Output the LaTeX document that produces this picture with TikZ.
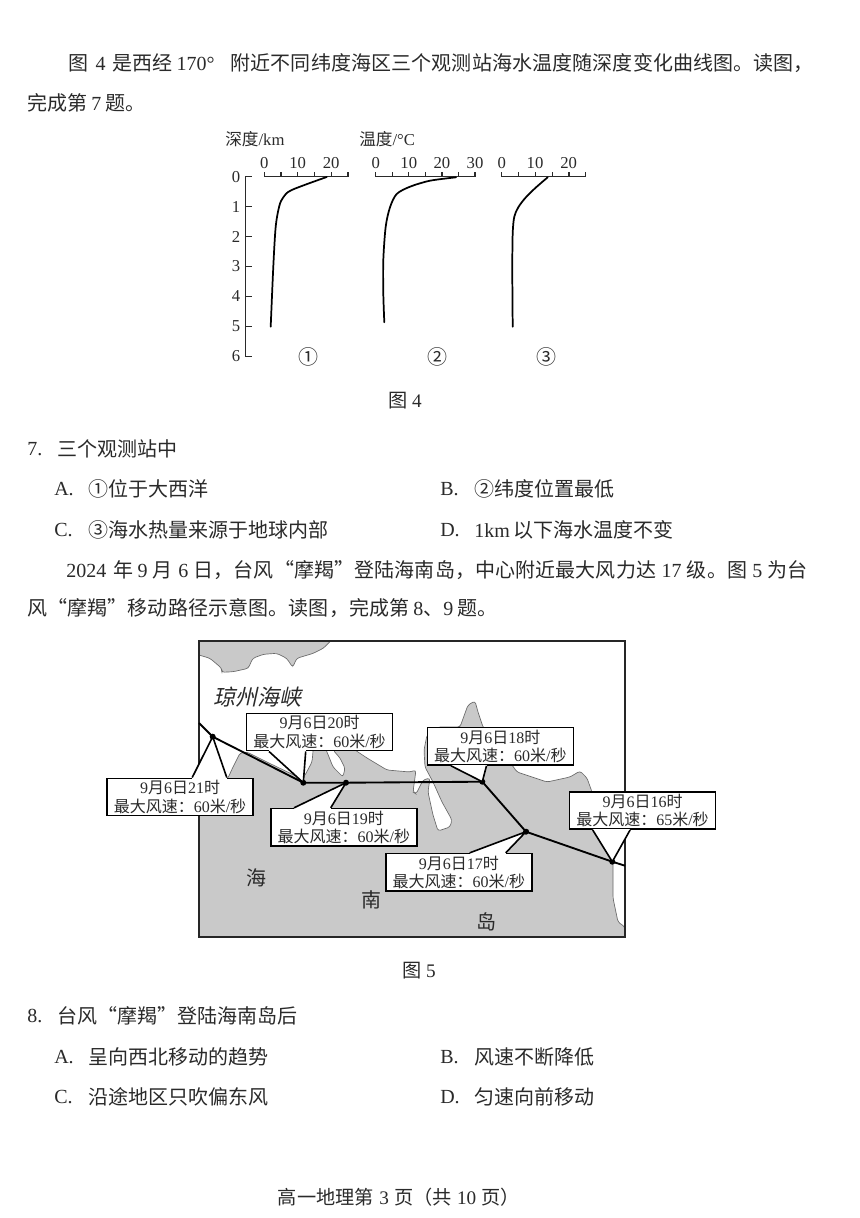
\documentclass[tikz,border=0pt]{standalone}
\usepackage{fontspec}
\usetikzlibrary{calc}
\setmainfont{Noto Sans CJK SC}
\newfontfamily\latnf{Liberation Serif}
\newfontfamily\cjkit[FakeSlant=0.22]{Noto Sans CJK SC}
\newfontfamily\widecjk[LetterSpace=0.6]{Noto Sans CJK SC}
\newcommand{\latn}[1]{{\latnf #1}}
\newcommand{\gap}[1]{\hspace{#1pt}}
\definecolor{ink}{HTML}{2A2A2A}
\definecolor{land}{HTML}{C9C9C9}
\tikzset{
  bodytxt/.style={anchor=west,inner sep=0pt,text=ink,font=\fontsize{15}{17}\selectfont},
  bodymid/.style={anchor=center,inner sep=0pt,text=ink,font=\fontsize{14.4}{16}\selectfont},
  axlab/.style={anchor=center,inner sep=0pt,text=ink,font=\fontsize{12.5}{14}\latnf},
  axtitle/.style={anchor=west,inner sep=0pt,text=ink,font=\fontsize{12.5}{14}\selectfont},
  axline/.style={draw=ink,line width=0.9pt},
  curveline/.style={draw=black,line width=1.3pt,line join=round,line cap=round},
  callout/.style={draw=black,fill=white,line width=1.2pt,minimum width=109.5pt,minimum height=28pt,inner sep=0pt,
     align=center,text=ink,font=\fontsize{12}{13.8}\selectfont},
  placetxt/.style={anchor=center,inner sep=0pt,text=ink,font=\fontsize{15}{17}\selectfont},
  trackline/.style={draw=black,line width=1.4pt,line join=round},
  tipdot/.style={circle,fill=black,inner sep=0pt,minimum size=4.5pt},
  ptr/.style={draw=black,line width=1.2pt,line join=miter},
}
\newcommand{\lab}[5]{%
  \node[callout] (#1) at (#2) {\latn{9}月\latn{6}日\latn{#3}时\\最大风速：\latn{#4}米\latn{/}秒};}
\newcommand{\pointer}[4]{%
  \fill[white] ($(#1)+(#2,0)$) -- (#4) -- ($(#1)+(#3,0)$) -- cycle;
  \draw[white,line width=1.8pt] ($(#1)+(#2,0)$) -- ($(#1)+(#3,0)$);
  \draw[ptr] ($(#1)+(#2,0)$) -- (#4) -- ($(#1)+(#3,0)$);}
\begin{document}
\begin{tikzpicture}[x=0.75pt,y=-0.75pt]
\useasboundingbox (0,0) rectangle (860,1218);
\fill[white] (0,0) rectangle (860,1218);

% body text
\node[bodytxt] (l1) at (68,63) {\widecjk 图\gap{5.6}\latn{4}\gap{5}是西经\gap{3}\latn{170°}\gap{12}附近不同纬度海区三个观测站海水温度随深度变化曲线图。读图，};
\node[bodytxt] (l2) at (27,103) {完成第\gap{3}\latn{7}\gap{3}题。};
\node[bodymid] (fig4) at (405,401) {图\gap{3.5}\latn{4}};
\node[bodytxt] (q7) at (27,449) {\latn{7.}};
\node[bodytxt] (q7t) at (57,449) {三个观测站中};
\node[bodytxt] (a7) at (54,489) {\latn{A.}};
\node[bodytxt] (a7t) at (88,489) {①位于大西洋};
\node[bodytxt] (b7) at (440,489) {\latn{B.}};
\node[bodytxt] (b7t) at (474,489) {②纬度位置最低};
\node[bodytxt] (c7) at (54,530) {\latn{C.}};
\node[bodytxt] (c7t) at (88,530) {③海水热量来源于地球内部};
\node[bodytxt] (d7) at (440,530) {\latn{D.}};
\node[bodytxt] (d7t) at (474,530) {\latn{1km}\gap{3}以下海水温度不变};
\node[bodytxt] (l3) at (66,570) {\widecjk\latn{2024}\gap{5.5}年\gap{3}\latn{9}\gap{4}月\gap{4}\latn{6}\gap{4}日，台风“摩羯”登陆海南岛，中心附近最大风力达\gap{4}\latn{17}\gap{4}级。图\gap{4}\latn{5}\gap{4}为台};
\node[bodytxt] (l4) at (27,608) {\widecjk 风“摩羯”移动路径示意图。读图，完成第\gap{3}\latn{8}、\latn{9}\gap{3}题。};
\node[bodymid] (fig5) at (419,971) {图\gap{3.5}\latn{5}};
\node[bodytxt] (q8) at (27,1016) {\latn{8.}};
\node[bodytxt] (q8t) at (57,1016) {台风“摩羯”登陆海南岛后};
\node[bodytxt] (a8) at (54,1057) {\latn{A.}};
\node[bodytxt] (a8t) at (88,1057) {呈向西北移动的趋势};
\node[bodytxt] (b8) at (440,1057) {\latn{B.}};
\node[bodytxt] (b8t) at (474,1057) {风速不断降低};
\node[bodytxt] (c8) at (54,1097) {\latn{C.}};
\node[bodytxt] (c8t) at (88,1097) {沿途地区只吹偏东风};
\node[bodytxt] (d8) at (440,1097) {\latn{D.}};
\node[bodytxt] (d8t) at (474,1097) {匀速向前移动};
\node[bodymid] (foot) at (399,1197) {高一地理第\gap{4}\latn{3}\gap{4}页（共\gap{4}\latn{10}\gap{4}页）};

% figure 4
\node[axtitle] (t1) at (225,139) {深度\latn{/km}};
\node[axtitle] (t2) at (359,139) {温度\latn{/°C}};
\draw[axline] (251.7,176.7) -- (245.7,176.7) -- (245.7,356.3) -- (251.7,356.3);
\foreach \d [count=\i from 0] in {176.7,206.5,236.5,266.4,296.4,326.3,356.3}{
  \draw[axline] (245.7,\d) -- (251.7,\d);
  \node[axlab] (dep\i) at (236,\d) {\i};
}
% axis 1
\draw[axline] (264.3,176.7) -- (348,176.7);
\foreach \x in {264.3,281,297.7,314.4,331.1,348} \draw[axline] (\x,176.7) -- (\x,171.7);
\node[axlab] (a10) at (264.3,162.7) {0};
\node[axlab] (a11) at (297.7,162.7) {10};
\node[axlab] (a12) at (331.1,162.7) {20};
% axis 2
\draw[axline] (375.7,176.7) -- (475,176.7);
\foreach \x in {375.7,392.3,408.8,425.4,441.9,458.5,475} \draw[axline] (\x,176.7) -- (\x,171.7);
\node[axlab] (a20) at (375.7,162.7) {0};
\node[axlab] (a21) at (408.8,162.7) {10};
\node[axlab] (a22) at (441.9,162.7) {20};
\node[axlab] (a23) at (475,162.7) {30};
% axis 3
\draw[axline] (501.7,176.7) -- (585.7,176.7);
\foreach \x in {501.7,518.5,535.3,552.1,568.9,585.7} \draw[axline] (\x,176.7) -- (\x,171.7);
\node[axlab] (a30) at (501.7,162.7) {0};
\node[axlab] (a31) at (535,162.7) {10};
\node[axlab] (a32) at (568.7,162.7) {20};
% curves
\draw[curveline] plot[smooth,tension=0.5] coordinates {(326.7,177) (291.7,190) (283.3,197.3) (279.3,206) (275.7,226.7) (273.3,266.7) (270.7,326.7)};
\draw[curveline] plot[smooth,tension=0.5] coordinates {(456,177.3) (430,180.7) (410,186.7) (396.7,194) (390,207.3) (385.7,226.7) (383.3,260) (383.3,293.3) (384.3,322.3)};
\draw[curveline] plot[smooth,tension=0.5] coordinates {(547.7,177.3) (535,188.3) (525,198.3) (518.3,207.3) (514.3,216.7) (512.7,233.3) (512.3,270) (512.7,326.7)};
\node[bodymid,font=\fontsize{15}{17}\selectfont] (s1) at (308,357) {①};
\node[bodymid,font=\fontsize{15}{17}\selectfont] (s2) at (437,357) {②};
\node[bodymid,font=\fontsize{15}{17}\selectfont] (s3) at (546.7,357) {③};

% figure 5: land
\fill[land] (199,641) -- (199,655) -- (210,658.3) -- (221.7,668.3) -- (221.7,672.3) -- (233.3,671.7) -- (248.3,668.3) -- (252.7,658.3) -- (263.3,654.3) -- (276.7,653.3) -- (286.7,658.3) -- (292.7,667.3) -- (296.7,658.3) -- (313.3,653.3) -- (323.3,648.3) -- (330.7,641) -- cycle;
\draw[draw=ink!70,line width=0.5pt,rounded corners=2pt] (199,655) -- (210,658.3) -- (221.7,668.3) -- (221.7,672.3) -- (233.3,671.7) -- (248.3,668.3) -- (252.7,658.3) -- (263.3,654.3) -- (276.7,653.3) -- (286.7,658.3) -- (292.7,667.3) -- (296.7,658.3) -- (313.3,653.3) -- (323.3,648.3) -- (330.7,641);
\path[fill=land,draw=ink!70,line width=0.5pt,rounded corners=2pt] (199,937) -- (199,800) -- (228,778) -- (233,767) -- (240,753) -- (247,752) -- (273,765) -- (300,778) -- (304,777) -- (312,762) -- (313,752) -- (313,745) -- (324,745) -- (327,752) -- (333,767) -- (343,777) -- (345,768) -- (340,758) -- (333,750) -- (352,748) -- (367,758) -- (387,770) -- (410,772) -- (416,770) -- (413,792) -- (416,794) -- (423,780) -- (430,778) -- (428,792) -- (433,815) -- (438,831) -- (450,827) -- (452,820) -- (442,802) -- (433,782) -- (425,767) -- (424,750) -- (427,735) -- (438,727) -- (458,727) -- (460,727) -- (468,705) -- (475,701) -- (478,712) -- (483,727) -- (510,762) -- (512,765) -- (517,772) -- (547,782) -- (570,777) -- (580,771) -- (587,778) -- (592,792) -- (597,832) -- (613,862) -- (613,898) -- (618,922) -- (625,927) [sharp corners] -- (625,937) -- cycle;
\draw[draw=black!85,line width=1.3pt] (199,641) rectangle (625,937);
\node[placetxt,font=\fontsize{16.5}{18}\cjkit] (strait) at (257,697) {琼州海峡};
\node[placetxt] (hai) at (256.7,878) {海};
\node[placetxt] (nan) at (371.7,900) {南};
\node[placetxt] (dao) at (486.7,921.7) {岛};

% callouts
\lab{c21}{180,797}{21}{60}{}
\lab{c20}{319.5,732}{20}{60}{}
\lab{c19}{343.8,827.3}{19}{60}{}
\lab{c18}{500.3,746.3}{18}{60}{}
\lab{c17}{458.8,872.3}{17}{60}{}
\lab{c16}{642.5,810.5}{16}{65}{}

\node[tipdot] (t16) at (612.3,861.7) {};
\node[tipdot] (t17) at (526,831.7) {};
\node[tipdot] (t18) at (482.3,781.7) {};
\node[tipdot] (t19) at (346,782.7) {};
\node[tipdot] (t20) at (303.3,782.7) {};
\node[tipdot] (t21) at (212.7,736.7) {};
\coordinate (tstart) at (625,865.7);
\coordinate (tend) at (199,723);

\pointer{c21.north west}{86}{120.6}{t21.center}
\pointer{c20.south west}{23.3}{60}{t20.center}
\pointer{c19.north west}{24}{60.7}{t19.center}
\pointer{c18.south west}{24.4}{60}{t18.center}
\pointer{c17.north west}{84.7}{120.7}{t17.center}
\pointer{c16.south west}{24}{61.4}{t16.center}

\draw[trackline] (tstart) -- (t16.center) -- (t17.center) -- (t18.center) -- (t19.center) -- (t20.center) -- (t21.center) -- (tend);
\end{tikzpicture}
\end{document}
